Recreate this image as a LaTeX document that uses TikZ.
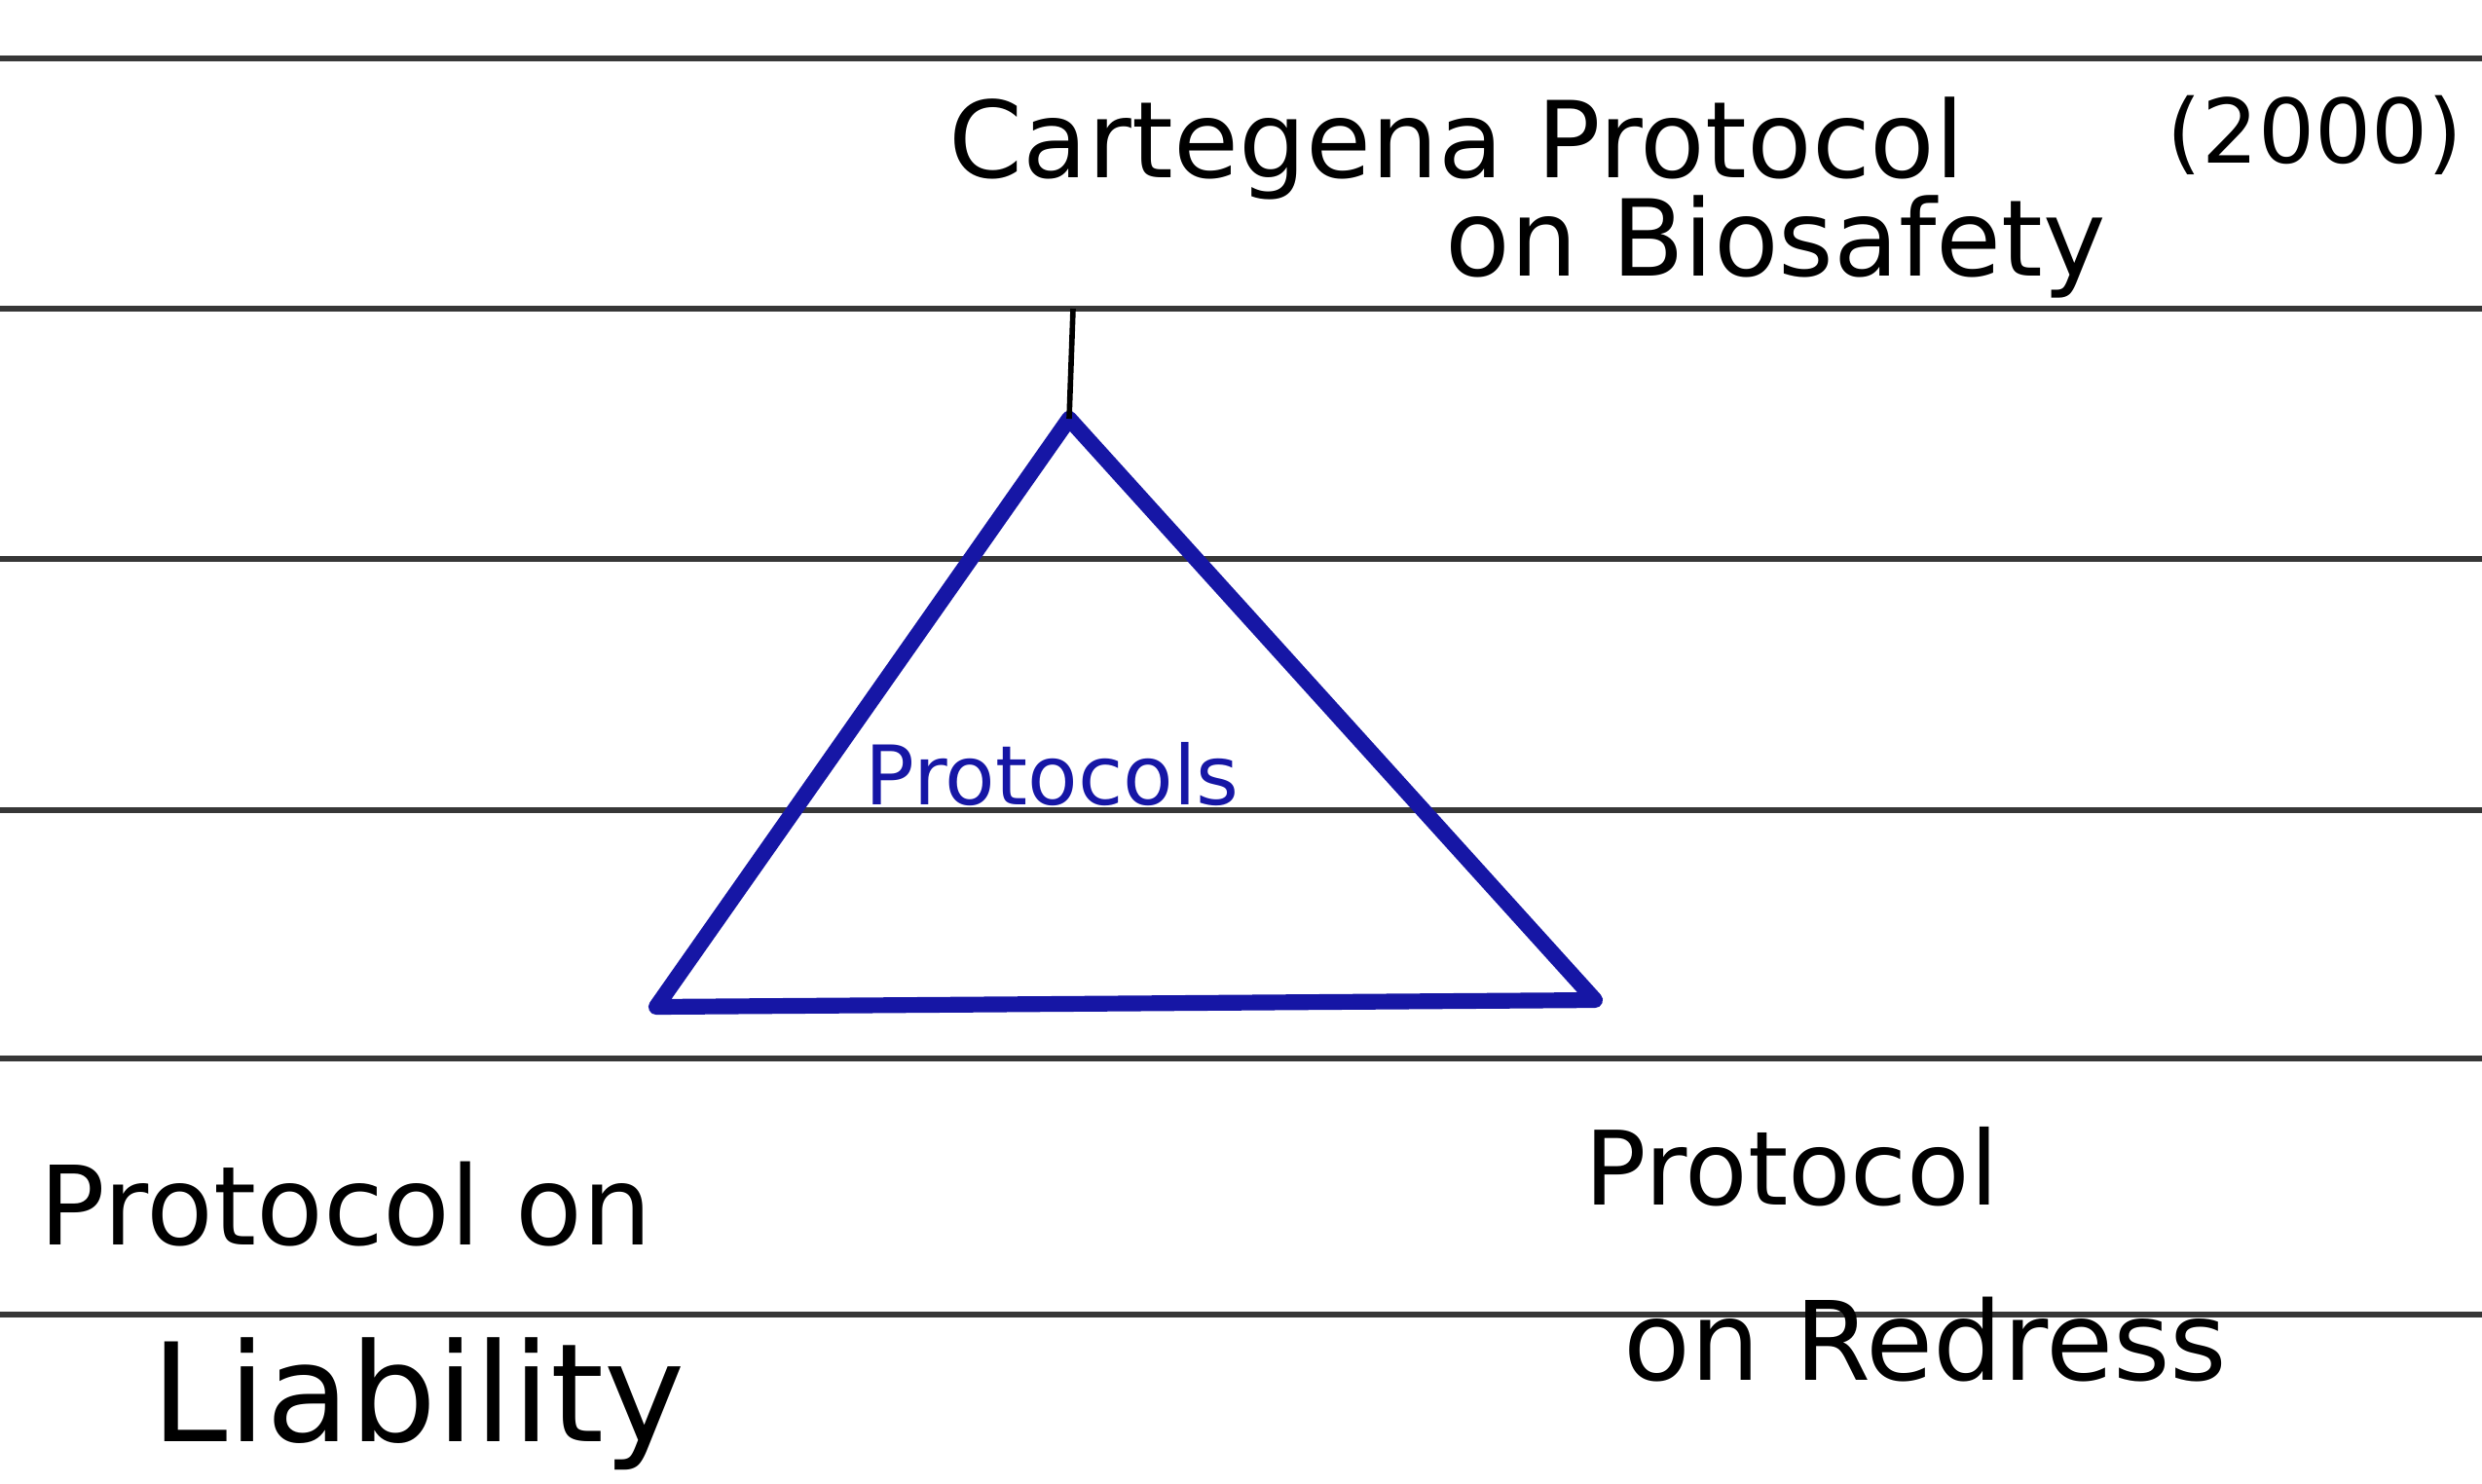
\documentclass[tikz,border=0pt]{standalone}
\usepackage{fontspec}
\setmainfont{DejaVu Sans}
\definecolor{penblue}{RGB}{22,22,165}
\definecolor{ruleink}{RGB}{55,55,55}
\tikzset{
	ruled/.style = {draw=ruleink, line width=1.8pt},% ruled paper line
	pen/.style = {inner sep=0pt, anchor=base west, black,
		font=\fontsize{#1}{#1}\selectfont},% handwritten label
	bluepen/.style = {pen=#1, penblue},
	tri/.style = {draw=penblue, line width=4.6pt, line join=round},
	tick/.style = {draw=black, line width=1.6pt}
}
\begin{document}
\begin{tikzpicture}
\useasboundingbox (0,0) rectangle (25.49,-15.23);
% ruled lines of the paper
\foreach \y in {0.60,3.17,5.74,8.32,10.87,13.50}
	\draw[ruled] (0,-\y) -- (25.49,-\y);
% top label
\node [pen=31] (cartagena) at (9.74,-1.82) {Cartegena Protocol};
\node [pen=26] (year) at (22.25,-1.67) {(2000)};
\node [pen=31] (biosafety) at (14.84,-2.83) {on Biosafety};
% triangle
\coordinate (apex) at (10.98,-4.30);
\coordinate (left) at (6.74,-10.34);
\coordinate (right) at (16.38,-10.27);
\coordinate (top) at (11.02,-3.17);
\draw [tri] (apex) -- (right) -- (left) -- cycle;
\draw [tick] (top) -- (apex);
\node [bluepen=24] (protocols) at (8.88,-8.26) {Protocols};
% bottom labels
\node [pen=32] (liability) at (0.40,-12.78) {Protocol on};
\node [pen=40] (liability2) at (1.55,-14.80) {Liability};
\node [pen=30] (redress) at (16.27,-12.37) {Protocol};
\node [pen=32] (redress2) at (16.67,-14.17) {on Redress};
\end{tikzpicture}
\end{document}
